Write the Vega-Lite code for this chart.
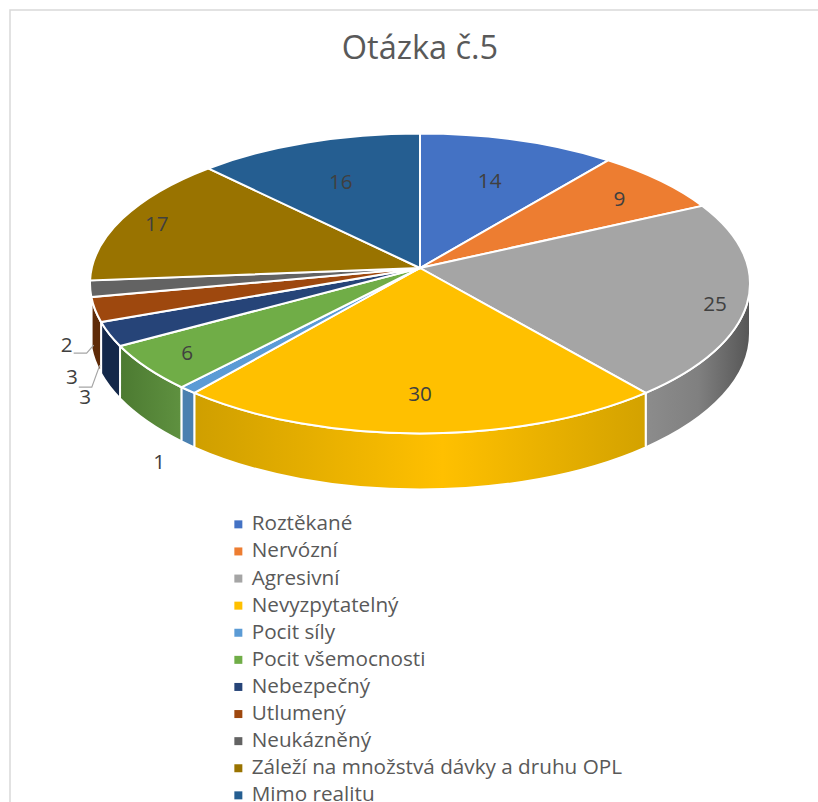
{
"$schema":"https://vega.github.io/schema/vega-lite/v6.json",
"autosize":{"type":"none"},
"padding":{"left":10,"top":10,"right":0,"bottom":0},
"width":810,"height":794,
"background":"white",
"view":{"stroke":"#d9d9d9","strokeWidth":1.5,"fill":"white"},
"title":{"text":"Otázka č.5","font":"Open Sans","fontSize":32.5,"fontWeight":"normal","color":"#595959","anchor":"middle","dx":5,"dy":55,"offset":0},
"data":{"values":[
{"order":1,"slice":"Roztěkané","value":14},
{"order":2,"slice":"Nervózní","value":9},
{"order":3,"slice":"Agresivní","value":25},
{"order":4,"slice":"Nevyzpytatelný","value":30},
{"order":5,"slice":"Pocit síly","value":1},
{"order":6,"slice":"Pocit všemocnosti","value":6},
{"order":7,"slice":"Nebezpečný","value":3},
{"order":8,"slice":"Utlumený","value":3},
{"order":9,"slice":"Neukázněný","value":2},
{"order":10,"slice":"Záleží na množstvá dávky a druhu OPL","value":17},
{"order":11,"slice":"Mimo realitu","value":16}
]},
"transform":[
{"window":[{"op":"sum","field":"value","as":"cum"}],"sort":[{"field":"order"}]},
{"joinaggregate":[{"op":"sum","field":"value","as":"total"}]},
{"calculate":"2*PI*(datum.cum-datum.value)/datum.total","as":"a0"},
{"calculate":"2*PI*datum.cum/datum.total","as":"a1"},
{"calculate":"(datum.a0+datum.a1)/2","as":"am"},
{"calculate":"-0.103","as":"d"},
{"calculate":"atan2((0.91+0.04*cos(datum.a0))*sin(datum.a0),cos(datum.a0))","as":"e0"},
{"calculate":"atan2((0.91+0.04*cos(datum.a1))*sin(datum.a1),cos(datum.a1))","as":"e1"},
{"calculate":"330*sin(datum.e0)*sqrt(1-datum.d*datum.d)/(1-datum.d*cos(datum.e0))","as":"x0"},
{"calculate":"150*(-cos(datum.e0)+datum.d)/(1-datum.d*cos(datum.e0))","as":"y0"},
{"calculate":"330*sin(datum.e1)*sqrt(1-datum.d*datum.d)/(1-datum.d*cos(datum.e1))","as":"x1"},
{"calculate":"150*(-cos(datum.e1)+datum.d)/(1-datum.d*cos(datum.e1))","as":"y1"},
{"calculate":"'M0,-15.5L'+datum.x0+','+datum.y0+'A330,150 0 0 1 '+datum.x1+','+datum.y1+'Z'","as":"top"},
{"calculate":"datum.y0<0?330:datum.x0","as":"wx0"},
{"calculate":"datum.y0<0?0:datum.y0","as":"wy0"},
{"calculate":"datum.y1<0?-330:datum.x1","as":"wx1"},
{"calculate":"datum.y1<0?0:datum.y1","as":"wy1"},
{"calculate":"'M'+datum.wx0+','+datum.wy0+'A330,150 0 0 1 '+datum.wx1+','+datum.wy1+'L'+datum.wx1+','+(50+datum.wy1*1.04)+'A330,156 0 0 0 '+datum.wx0+','+(50+datum.wy0*1.04)+'Z'","as":"wall"},
{"calculate":"{'Roztěkané':0.66,'Nervózní':0.8,'Agresivní':0.9,'Nevyzpytatelný':0.785,'Pocit síly':1.05,'Pocit všemocnosti':0.83,'Nebezpečný':1.06,'Utlumený':1.065,'Neukázněný':1.07,'Záleží na množstvá dávky a druhu OPL':0.88,'Mimo realitu':0.66}[datum.slice]","as":"r"},
{"calculate":"{'Agresivní':10,'Pocit síly':74,'Pocit všemocnosti':10,'Nebezpečný':66,'Utlumený':70,'Neukázněný':58}[datum.slice]||0","as":"dy"},
{"calculate":"330*datum.r*sin(datum.am)*sqrt(1-datum.d*datum.d)/(1-datum.d*datum.r*cos(datum.am))","as":"lx"},
{"calculate":"150*(-datum.r*cos(datum.am)+datum.d)/(1-datum.d*datum.r*cos(datum.am))+datum.dy","as":"ly"},
{"calculate":"datum.slice==='Neukázněný'?'M7,7L20,7L27,-1':datum.slice==='Utlumený'?'M7,9L20,9L28,-13':''","as":"leader"}
],
"layer":[
{"encoding":{
"x":{"datum":0,"type":"quantitative","scale":{"domain":[-410,400],"nice":false,"zero":false},"axis":null},
"y":{"datum":0,"type":"quantitative","scale":{"domain":[520.5,-273.5],"nice":false,"zero":false},"axis":null}
},
"layer":[
{"transform":[{"filter":"datum.slice==='Agresivní'"}],"mark":{"type":"point","filled":true,"size":4,"opacity":1,"stroke":"white","strokeWidth":2,"fill":{"gradient":"linear","x1":0,"x2":1,"y1":0,"y2":0,"stops":[{"offset":0,"color":"#8c8c8c"},{"offset":0.5,"color":"#808080"},{"offset":1,"color":"#565656"}]}},"encoding":{"shape":{"field":"wall","type":"nominal","scale":null}}},
{"transform":[{"filter":"datum.slice==='Nevyzpytatelný'"}],"mark":{"type":"point","filled":true,"size":4,"opacity":1,"stroke":"white","strokeWidth":2,"fill":{"gradient":"linear","x1":0,"x2":1,"y1":0,"y2":0,"stops":[{"offset":0,"color":"#cf9f00"},{"offset":0.55,"color":"#ffc000"},{"offset":1,"color":"#d3a200"}]}},"encoding":{"shape":{"field":"wall","type":"nominal","scale":null}}},
{"transform":[{"filter":"datum.slice==='Pocit všemocnosti'"}],"mark":{"type":"point","filled":true,"size":4,"opacity":1,"stroke":"white","strokeWidth":2,"fill":{"gradient":"linear","x1":0,"x2":1,"y1":0,"y2":0,"stops":[{"offset":0,"color":"#4c7a31"},{"offset":1,"color":"#5f9140"}]}},"encoding":{"shape":{"field":"wall","type":"nominal","scale":null}}},
{"transform":[{"filter":"datum.slice==='Pocit síly'"}],"mark":{"type":"point","filled":true,"size":4,"opacity":1,"stroke":"white","strokeWidth":2,"fill":"#4a80b0"},"encoding":{"shape":{"field":"wall","type":"nominal","scale":null}}},
{"transform":[{"filter":"datum.slice==='Nebezpečný'"}],"mark":{"type":"point","filled":true,"size":4,"opacity":1,"stroke":"white","strokeWidth":2,"fill":"#14284a"},"encoding":{"shape":{"field":"wall","type":"nominal","scale":null}}},
{"transform":[{"filter":"datum.slice==='Utlumený'"}],"mark":{"type":"point","filled":true,"size":4,"opacity":1,"stroke":"white","strokeWidth":2,"fill":"#5f2b08"},"encoding":{"shape":{"field":"wall","type":"nominal","scale":null}}},
{"transform":[{"filter":"datum.slice==='Neukázněný'"}],"mark":{"type":"point","filled":true,"size":4,"opacity":1,"stroke":"white","strokeWidth":2,"fill":"#3b3b3b"},"encoding":{"shape":{"field":"wall","type":"nominal","scale":null}}},
{"mark":{"type":"point","filled":true,"size":4,"opacity":1,"stroke":"white","strokeWidth":2},
"encoding":{
"shape":{"field":"top","type":"nominal","scale":null},
"color":{"field":"slice","type":"nominal","sort":null,
"scale":{"domain":["Roztěkané","Nervózní","Agresivní","Nevyzpytatelný","Pocit síly","Pocit všemocnosti","Nebezpečný","Utlumený","Neukázněný","Záleží na množstvá dávky a druhu OPL","Mimo realitu"],
"range":["#4472C4","#ED7D31","#A5A5A5","#FFC000","#5B9BD5","#70AD47","#264478","#9E480E","#636363","#997300","#255E91"]},
"legend":{"title":null,"orient":"none","legendX":218,"legendY":504,"symbolType":"square","symbolSize":64,"symbolStrokeWidth":0,"symbolOpacity":1,"labelFont":"Open Sans","labelFontSize":20.7,"labelColor":"#595959","labelOffset":3,"rowPadding":5.1,"labelLimit":500,"padding":0}}
}}
]},
{"transform":[{"filter":"datum.leader!==''"}],"mark":{"type":"point","filled":false,"size":4,"opacity":1,"stroke":"#a6a6a6","strokeWidth":1.2,"fill":"transparent"},
"encoding":{
"x":{"field":"lx","type":"quantitative","scale":{"domain":[-410,400],"nice":false,"zero":false},"axis":null},
"y":{"field":"ly","type":"quantitative","scale":{"domain":[520.5,-273.5],"nice":false,"zero":false},"axis":null},
"shape":{"field":"leader","type":"nominal","scale":null}}},
{"mark":{"type":"text","font":"Open Sans","fontSize":20.7,"color":"#404040","align":"center","baseline":"middle"},
"encoding":{
"x":{"field":"lx","type":"quantitative","scale":{"domain":[-410,400],"nice":false,"zero":false},"axis":null},
"y":{"field":"ly","type":"quantitative","scale":{"domain":[520.5,-273.5],"nice":false,"zero":false},"axis":null},
"text":{"field":"value","type":"quantitative"}}}
]
}
